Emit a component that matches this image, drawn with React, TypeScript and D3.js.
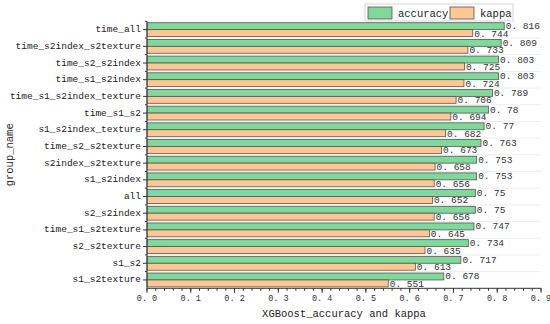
import React from 'react';
import * as d3 from 'd3';

const categories = [
  'time_all', 'time_s2index_s2texture', 'time_s2_s2index', 'time_s1_s2index',
  'time_s1_s2index_texture', 'time_s1_s2', 's1_s2index_texture', 'time_s2_s2texture',
  's2index_s2texture', 's1_s2index', 'all', 's2_s2index', 'time_s1_s2texture',
  's2_s2texture', 's1_s2', 's1_s2texture',
];
const accuracy = [0.816, 0.809, 0.803, 0.803, 0.789, 0.78, 0.77, 0.763, 0.753, 0.753, 0.75, 0.75, 0.747, 0.734, 0.717, 0.678];
const kappa = [0.744, 0.733, 0.725, 0.724, 0.706, 0.694, 0.682, 0.673, 0.658, 0.656, 0.652, 0.656, 0.645, 0.635, 0.613, 0.551];
const xTicks = [0, 0.1, 0.2, 0.3, 0.4, 0.5, 0.6, 0.7, 0.8, 0.9];

const GREEN = '#80d89a';
const ORANGE = '#fec894';
const FONT = "'Liberation Mono', 'Courier New', Cousine, monospace";

const fmt = (v: number) => v.toFixed(1).replace('.', '. ');
const fmtVal = (v: number) => String(v).replace('.', '. ');

export default function App() {
  const W = 550, H = 324;
  const left = 147, right = 541, top = 21.3, bottom = 288.3;

  const x = d3.scaleLinear().domain([0, 0.9]).range([left, right]);
  const y = d3.scaleBand<string>().domain(categories).range([top, bottom]);
  const bw = y.bandwidth();
  const barH = bw * 0.415;

  const minorX = d3.range(0, 0.9001, 0.02);

  return (
    <svg width={W} height={H} style={{ position: 'absolute', left: 0, top: 0, background: '#fff', fontFamily: FONT }}>
      {categories.map((c, i) => i > 0 && (
        <line key={'g' + c} x1={left} x2={right} y1={y(c)!} y2={y(c)!} stroke="#e8e8e8" strokeWidth={0.8} />
      ))}

      {categories.map((c, i) => {
        const cy = y(c)! + bw / 2;
        return (
          <g key={c}>
            <rect x={x(0)} y={cy - barH} width={x(accuracy[i]) - x(0)} height={barH}
              fill={GREEN} stroke="#555" strokeWidth={0.8} />
            <rect x={x(0)} y={cy} width={x(kappa[i]) - x(0)} height={barH}
              fill={ORANGE} stroke="#555" strokeWidth={0.8} />
            <text x={x(accuracy[i]) + 1.5} y={cy - barH / 2 + 0.5} dominantBaseline="central"
              fontSize={9.5} fill="#333">{fmtVal(accuracy[i])}</text>
            <text x={x(kappa[i]) + 1.5} y={cy + barH / 2 + 1} dominantBaseline="central"
              fontSize={9.5} fill="#333">{fmtVal(kappa[i])}</text>
          </g>
        );
      })}

      <line x1={left} x2={left} y1={top} y2={bottom} stroke="#333" strokeWidth={1} />
      {categories.map(c => {
        const cy = y(c)! + bw / 2;
        return (
          <g key={'t' + c}>
            <line x1={left - 4} x2={left} y1={cy} y2={cy} stroke="#333" />
            <line x1={left - 2} x2={left} y1={y(c)!} y2={y(c)!} stroke="#333" />
            <text x={left - 6} y={cy} textAnchor="end" dominantBaseline="central"
              fontSize={9.5} fill="#222">{c}</text>
          </g>
        );
      })}

      <line x1={left} x2={right} y1={bottom} y2={bottom} stroke="#333" strokeWidth={1} />
      {minorX.map((t, i) => (
        <line key={'m' + i} x1={x(t)} x2={x(t)} y1={bottom} y2={bottom + 2.5} stroke="#333" />
      ))}
      {xTicks.map(t => (
        <g key={'x' + t}>
          <line x1={x(t)} x2={x(t)} y1={bottom} y2={bottom + 4.5} stroke="#333" />
          <text x={x(t)} y={bottom + 11} textAnchor="middle" dominantBaseline="central"
            fontSize={8.5} fill="#333">{fmt(t)}</text>
        </g>
      ))}

      <text x={(left + right) / 2} y={314} textAnchor="middle" dominantBaseline="central"
        fontSize={10.5} fill="#222">XGBoost_accuracy and kappa</text>
      <text transform={`translate(10,${(top + bottom) / 2}) rotate(-90)`} textAnchor="middle"
        dominantBaseline="central" fontSize={10.5} fill="#222">group_name</text>

      <rect x={365} y={4} width={148} height={17} fill="#fff" stroke="#ccc" strokeWidth={0.8} />
      <rect x={368} y={7} width={24} height={12} fill={GREEN} stroke="#555" strokeWidth={0.8} />
      <text x={398} y={13.5} dominantBaseline="central" fontSize={10.5} fill="#222">accuracy</text>
      <rect x={450} y={7} width={24} height={12} fill={ORANGE} stroke="#555" strokeWidth={0.8} />
      <text x={480} y={13.5} dominantBaseline="central" fontSize={10.5} fill="#222">kappa</text>
    </svg>
  );
}
